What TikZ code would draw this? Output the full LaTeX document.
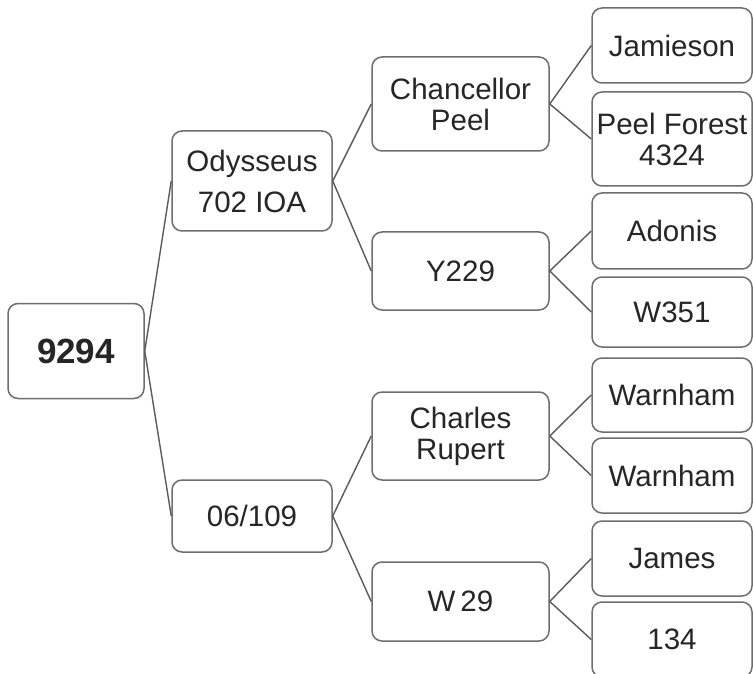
\documentclass[tikz,border=0pt]{standalone}
\usepackage{fontspec}
\setmainfont{Liberation Sans}
\usepackage{xcolor}
\definecolor{edge}{HTML}{6E6E6E}
\definecolor{ink}{HTML}{262626}
\definecolor{wire}{HTML}{5A5A5A}
\usepackage{tikz}
\usetikzlibrary{positioning}
\tikzset{
  box/.style={draw=edge,rounded corners=5pt,line width=0.75pt,inner sep=1pt,align=center,fill=white,
    text=ink,font=\fontsize{14.75}{15.5}\selectfont},
  rbox/.style={box,minimum width=68pt,minimum height=47.5pt,font=\fontsize{17.5}{19}\selectfont\bfseries},
  abox/.style={box,minimum width=80pt},
  bbox/.style={box,minimum width=88.5pt},
  cbox/.style={box,minimum width=80pt},
  link/.style={draw=wire,line width=0.7pt},
}

\begin{document}
\begin{tikzpicture}[x=0.5pt,y=-0.5pt]
\clip (0,0) rectangle (753,673);
% root
\node[rbox] (root) at (76,351) {9294};
% first level
\node[abox,minimum height=50pt] (ody) at (252,181) {Odysseus\\[5pt]702 IOA};
\node[abox,minimum height=36pt] (six) at (252,516) {06/109};
% second level
\node[bbox,minimum height=47pt] (chp) at (460.5,104) {Chancellor\\Peel};
\node[bbox,minimum height=39pt] (y22) at (460.5,271) {Y229};
\node[bbox,minimum height=44pt] (chr) at (460.5,436) {Charles\\Rupert};
\node[bbox,minimum height=39.5pt] (w29) at (460.5,601.5) {W\,29};
% third level
\node[cbox,minimum height=37.5pt] (jam) at (672,45.5) {Jamieson};
\node[cbox,minimum height=47pt] (pfo) at (672,139) {Peel Forest\\4324};
\node[cbox,minimum height=38pt] (ado) at (672,231) {Adonis};
\node[cbox,minimum height=35pt] (w35) at (672,312) {W351};
\node[cbox,minimum height=37pt] (wa1) at (672,395) {Warnham};
\node[cbox,minimum height=37.5pt] (wa2) at (672,475.5) {Warnham};
\node[cbox,minimum height=37.5pt] (jms) at (672,558.5) {James};
\node[cbox,minimum height=37.5pt] (one) at (672,639.5) {134};
% links
\draw[link] (root.east)--(ody.west); \draw[link] (root.east)--(six.west);
\draw[link] (ody.east)--(chp.west); \draw[link] (ody.east)--(y22.west);
\draw[link] (six.east)--(chr.west); \draw[link] (six.east)--(w29.west);
\draw[link] (chp.east)--(jam.west); \draw[link] (chp.east)--(pfo.west);
\draw[link] (y22.east)--(ado.west); \draw[link] (y22.east)--(w35.west);
\draw[link] (chr.east)--(wa1.west); \draw[link] (chr.east)--(wa2.west);
\draw[link] (w29.east)--(jms.west); \draw[link] (w29.east)--(one.west);
\end{tikzpicture}
\end{document}
